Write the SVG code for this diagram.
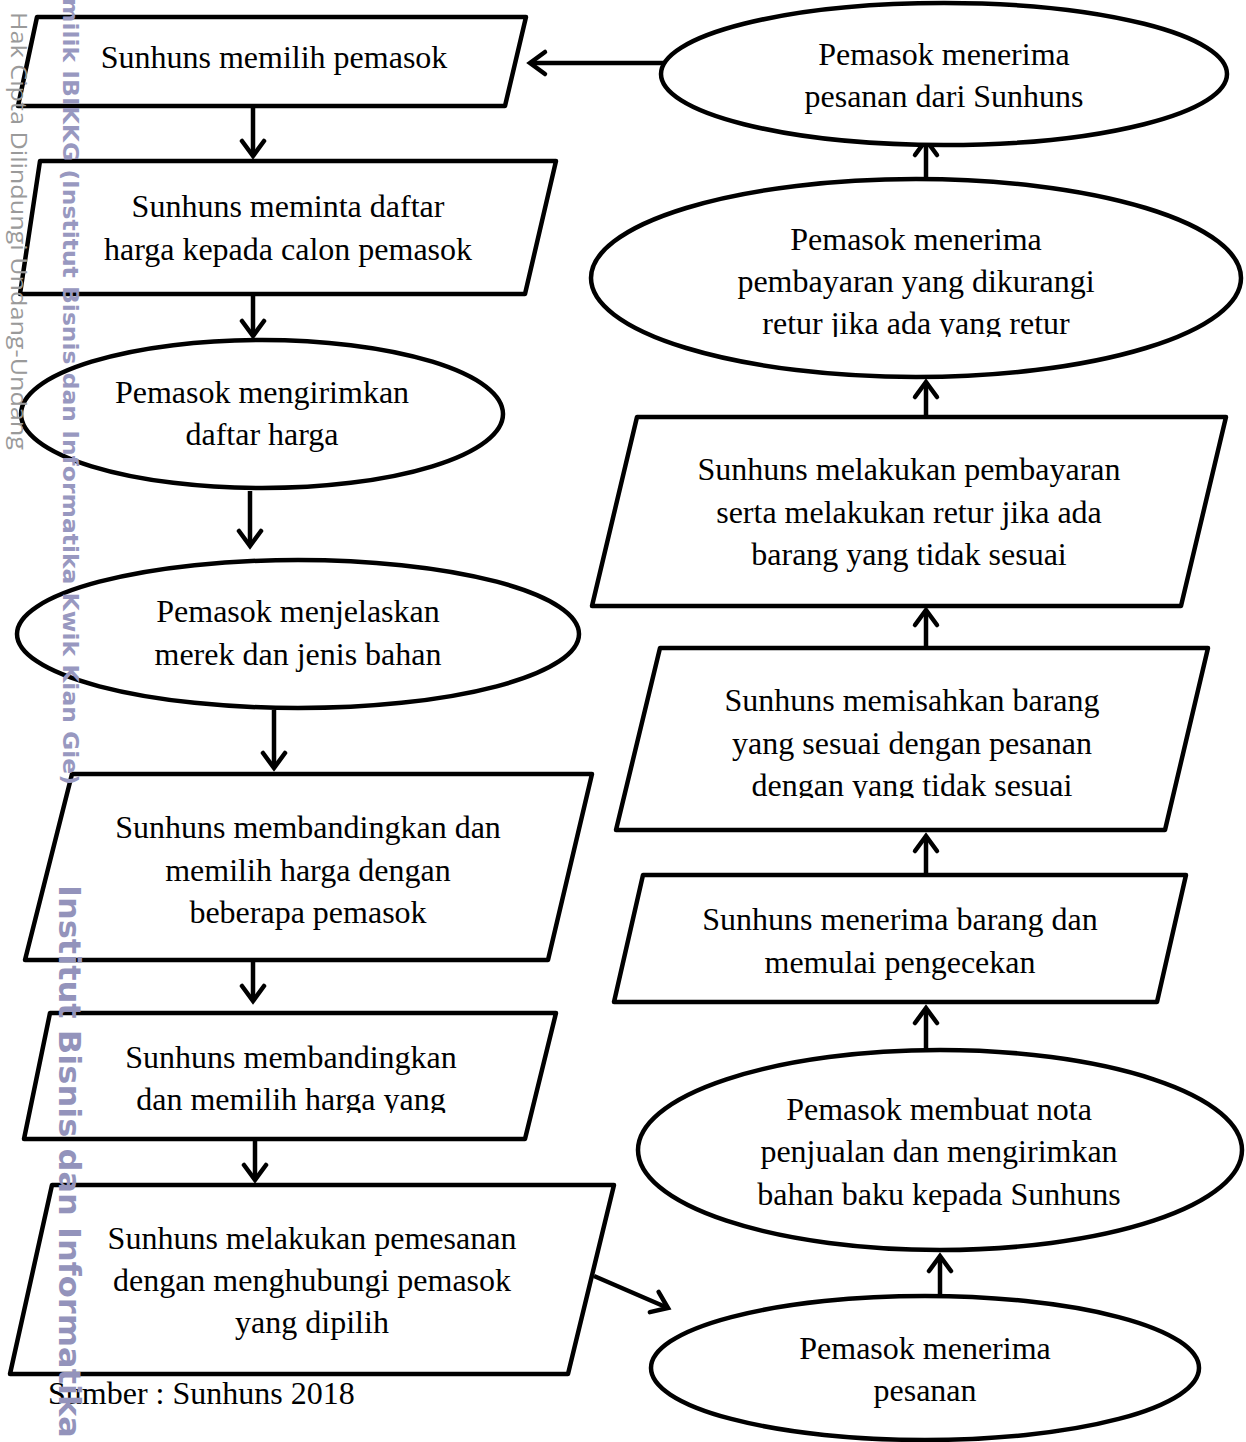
<svg xmlns="http://www.w3.org/2000/svg" width="1246" height="1442" viewBox="0 0 1246 1442">
<style>
.shape{fill:#fff;stroke:#000;stroke-width:4.5;stroke-linejoin:round}
.lbl{font-family:"Liberation Serif","Times New Roman",serif;font-size:32px;fill:#000;text-anchor:middle}
.src{font-family:"Liberation Serif","Times New Roman",serif;font-size:32px;fill:#000}
.conn{fill:none;stroke:#000;stroke-width:4.5;marker-end:url(#arr)}
.wm1{font-family:"Open Sans","DejaVu Sans",sans-serif;font-size:21px;fill:#9a9a9a}
.wm2{font-family:"DejaVu Sans","Open Sans",sans-serif;font-weight:bold;font-size:22px;fill:#9898c0}
.wm3{font-family:"DejaVu Sans","Open Sans",sans-serif;font-weight:bold;font-size:31px;fill:#9393bb}
</style>
<defs>
<marker id="arr" markerUnits="userSpaceOnUse" viewBox="-20 -16 26 32" refX="0" refY="0" markerWidth="26" markerHeight="32" orient="auto">
<path d="M-15,-11 L0,0 L-15,11" fill="none" stroke="#000" stroke-width="4.5" stroke-linejoin="miter" stroke-linecap="round"/>
</marker>
<clipPath id="c1"><rect x="590" y="300" width="660" height="37"/></clipPath>
<clipPath id="c2"><rect x="600" y="760" width="620" height="38"/></clipPath>
<clipPath id="c3"><rect x="20" y="1080" width="540" height="33"/></clipPath>
</defs>

<g id="connectors">
<line class="conn" x1="253" y1="108" x2="253" y2="156"/>
<line class="conn" x1="253" y1="296" x2="253" y2="336"/>
<line class="conn" x1="250" y1="491" x2="250" y2="546"/>
<line class="conn" x1="274" y1="710" x2="274" y2="768"/>
<line class="conn" x1="253" y1="962" x2="253" y2="1001"/>
<line class="conn" x1="255" y1="1141" x2="255" y2="1180"/>
<line class="conn" x1="594" y1="1276" x2="668" y2="1308"/>
<line class="conn" x1="940" y1="1296" x2="940" y2="1256"/>
<line class="conn" x1="926" y1="1050" x2="926" y2="1008"/>
<line class="conn" x1="926" y1="876" x2="926" y2="836"/>
<line class="conn" x1="926" y1="650" x2="926" y2="610"/>
<line class="conn" x1="926" y1="418" x2="926" y2="382"/>
<line class="conn" x1="926" y1="180" x2="926" y2="140"/>
<line class="conn" x1="672" y1="63" x2="530" y2="63"/>
</g>

<g id="n1">
<polygon class="shape" points="37,17 526,17 505,106 18,106"/>
<text class="lbl" x="274" y="68">Sunhuns memilih pemasok</text>
</g>
<g id="n2">
<polygon class="shape" points="40,161 556,161 525,294 20,294"/>
<text class="lbl" x="288" y="217">Sunhuns meminta daftar</text>
<text class="lbl" x="288" y="260">harga kepada calon pemasok</text>
</g>
<g id="n3">
<ellipse class="shape" cx="262" cy="414" rx="241" ry="74"/>
<text class="lbl" x="262" y="403">Pemasok mengirimkan</text>
<text class="lbl" x="262" y="445">daftar harga</text>
</g>
<g id="n4">
<ellipse class="shape" cx="298" cy="634" rx="281" ry="74"/>
<text class="lbl" x="298" y="622">Pemasok menjelaskan</text>
<text class="lbl" x="298" y="665">merek dan jenis bahan</text>
</g>
<g id="n5">
<polygon class="shape" points="72,774 592,774 548,960 25,960"/>
<text class="lbl" x="308" y="838">Sunhuns membandingkan dan</text>
<text class="lbl" x="308" y="881">memilih harga dengan</text>
<text class="lbl" x="308" y="923">beberapa pemasok</text>
</g>
<g id="n6">
<polygon class="shape" points="50,1013 556,1013 525,1139 24,1139"/>
<text class="lbl" x="291" y="1068">Sunhuns membandingkan</text>
<text class="lbl" x="291" y="1110" clip-path="url(#c3)">dan memilih harga yang</text>
</g>
<g id="n7">
<polygon class="shape" points="52,1185 614,1185 568,1374 10,1374"/>
<text class="lbl" x="312" y="1249">Sunhuns melakukan pemesanan</text>
<text class="lbl" x="312" y="1291">dengan menghubungi pemasok</text>
<text class="lbl" x="312" y="1333">yang dipilih</text>
</g>
<g id="n8">
<ellipse class="shape" cx="925" cy="1368" rx="274" ry="72"/>
<text class="lbl" x="925" y="1359">Pemasok menerima</text>
<text class="lbl" x="925" y="1401">pesanan</text>
</g>
<g id="n9">
<ellipse class="shape" cx="940" cy="1150" rx="302" ry="100"/>
<text class="lbl" x="939" y="1120">Pemasok membuat nota</text>
<text class="lbl" x="939" y="1162">penjualan dan mengirimkan</text>
<text class="lbl" x="939" y="1205">bahan baku kepada Sunhuns</text>
</g>
<g id="n10">
<polygon class="shape" points="643,875 1186,875 1157,1002 614,1002"/>
<text class="lbl" x="900" y="930">Sunhuns menerima barang dan</text>
<text class="lbl" x="900" y="973">memulai pengecekan</text>
</g>
<g id="n11">
<polygon class="shape" points="660,648 1208,648 1165,830 616,830"/>
<text class="lbl" x="912" y="711">Sunhuns memisahkan barang</text>
<text class="lbl" x="912" y="754">yang sesuai dengan pesanan</text>
<text class="lbl" x="912" y="796" clip-path="url(#c2)">dengan yang tidak sesuai</text>
</g>
<g id="n12">
<polygon class="shape" points="637,417 1226,417 1181,606 592,606"/>
<text class="lbl" x="909" y="480">Sunhuns melakukan pembayaran</text>
<text class="lbl" x="909" y="523">serta melakukan retur jika ada</text>
<text class="lbl" x="909" y="565">barang yang tidak sesuai</text>
</g>
<g id="n13">
<ellipse class="shape" cx="916" cy="278" rx="325" ry="99"/>
<text class="lbl" x="916" y="250">Pemasok menerima</text>
<text class="lbl" x="916" y="292">pembayaran yang dikurangi</text>
<text class="lbl" x="916" y="334" clip-path="url(#c1)">retur jika ada yang retur</text>
</g>
<g id="n14">
<ellipse class="shape" cx="944" cy="74" rx="283" ry="71"/>
<text class="lbl" x="944" y="65">Pemasok menerima</text>
<text class="lbl" x="944" y="107">pesanan dari Sunhuns</text>
</g>

<text class="src" x="48" y="1404">Sumber : Sunhuns 2018</text>

<g id="watermark">
<text class="wm1" transform="translate(11,12) rotate(90)" textLength="438" lengthAdjust="spacingAndGlyphs">Hak Cipta Dilindungi Undang-Undang</text>
<text class="wm2" transform="translate(63,-2) rotate(90)" textLength="787" lengthAdjust="spacingAndGlyphs">milik IBIKKG (Institut Bisnis dan Informatika Kwik Kian Gie)</text>
<text class="wm3" transform="translate(59,885) rotate(90)" textLength="553" lengthAdjust="spacingAndGlyphs">Institut Bisnis dan Informatika</text>
</g>
</svg>
